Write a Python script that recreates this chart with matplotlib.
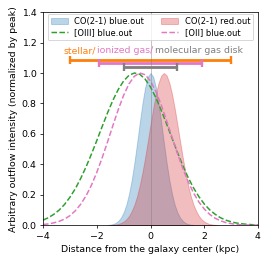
import numpy as np
import matplotlib.pyplot as plt

# CO(2-1) blue outflow
x_co_b = [-1.6, -1.5, -1.4, -1.3, -1.2, -1.1, -1.0, -0.9, -0.8, -0.7, -0.6, -0.5, -0.4, -0.3, -0.2, -0.1,
          0.0, 0.1, 0.2, 0.3, 0.4, 0.5, 0.6, 0.7, 0.8, 0.9, 1.0, 1.1, 1.2, 1.3, 1.4, 1.5, 1.6]
y_co_b = [0.002, 0.004, 0.008, 0.015, 0.029, 0.050, 0.085, 0.135, 0.206, 0.298, 0.411, 0.539, 0.674, 0.801, 0.906, 0.976,
          1.000, 0.976, 0.906, 0.801, 0.674, 0.539, 0.411, 0.298, 0.206, 0.135, 0.085, 0.050, 0.029, 0.015, 0.008, 0.004, 0.002]

# CO(2-1) red outflow
x_co_r = [-1.5, -1.4, -1.3, -1.2, -1.1, -1.0, -0.9, -0.8, -0.7, -0.6, -0.5, -0.4, -0.3, -0.2, -0.1, 0.0,
          0.1, 0.2, 0.3, 0.4, 0.5, 0.6, 0.7, 0.8, 0.9, 1.0, 1.1, 1.2, 1.3, 1.4, 1.5,
          1.6, 1.7, 1.8, 1.9, 2.0, 2.1, 2.2, 2.3, 2.4, 2.5]
y_co_r = [0.001, 0.003, 0.005, 0.008, 0.015, 0.024, 0.039, 0.061, 0.093, 0.135, 0.191, 0.262, 0.347, 0.445, 0.552, 0.662,
          0.768, 0.862, 0.936, 0.984, 1.000, 0.984, 0.936, 0.862, 0.768, 0.662, 0.552, 0.445, 0.347, 0.262, 0.191,
          0.135, 0.093, 0.061, 0.039, 0.024, 0.015, 0.008, 0.005, 0.003, 0.001]

# ionized gas profiles
x_ion = [-4.0, -3.8, -3.6, -3.4, -3.2, -3.0, -2.8, -2.6, -2.4, -2.2, -2.0, -1.8, -1.6, -1.4, -1.2, -1.0, -0.8, -0.6,
         -0.4, -0.2, 0.0, 0.2, 0.4, 0.6, 0.8, 1.0, 1.2, 1.4, 1.6, 1.8, 2.0, 2.2, 2.4, 2.6, 2.8, 3.0, 3.2, 3.4, 3.6, 3.8, 4.0]
y_oiii = [0.034, 0.050, 0.072, 0.100, 0.137, 0.184, 0.240, 0.307, 0.383, 0.467, 0.556, 0.648, 0.738, 0.821, 0.892, 0.948, 0.985, 1.000,
          0.992, 0.960, 0.908, 0.838, 0.755, 0.665, 0.572, 0.480, 0.393, 0.314, 0.246, 0.188, 0.140, 0.102, 0.073, 0.050, 0.034, 0.023, 0.015, 0.010, 0.006, 0.004, 0.002]
y_oii = [0.005, 0.009, 0.016, 0.026, 0.041, 0.063, 0.095, 0.138, 0.193, 0.263, 0.347, 0.443, 0.547, 0.655, 0.760, 0.854, 0.929, 0.979,
         1.000, 0.989, 0.947, 0.879, 0.790, 0.687, 0.580, 0.473, 0.374, 0.287, 0.213, 0.153, 0.107, 0.072, 0.047, 0.030, 0.018, 0.011, 0.006, 0.003, 0.002, 0.001, 0.001]

# disk extents (half sizes in kpc) and heights
disk_names = ['stellar/', 'ionized gas/', 'molecular gas disk']
disk_half = [3.0, 1.9, 1.0]
disk_y = [1.085, 1.063, 1.04]
disk_col = ['tab:orange', 'tab:pink', 'tab:gray']
xt = [-3.24, -1.99, 0.15]

fig = plt.figure(figsize=(4, 4))
ax = fig.add_axes([0.160, 0.1625, 0.799, 0.7925])

ax.fill_between(x_co_b, y_co_b, color='tab:blue', alpha=0.3, label='CO(2-1) blue.out')
ax.plot(x_ion, y_oiii, '--', color='tab:green', lw=1.6, label='[OIII] blue.out')
ax.fill_between(x_co_r, y_co_r, color='tab:red', alpha=0.3, label='CO(2-1) red.out')
ax.plot(x_ion, y_oii, '--', color='tab:pink', lw=1.6, label='[OII] blue.out')

for h, yy, c in zip(disk_half, disk_y, disk_col):
    ax.errorbar(0, yy, xerr=h, color=c, lw=3, capsize=4, capthick=2.5)

for t, xx, c in zip(disk_names, xt, disk_col):
    ax.text(xx, 1.147, t, color=c, va='center', ha='left', fontsize=10)

ax.axvline(0, color='gray', lw=1, alpha=0.5)
ax.set_xlim(-4, 4)
ax.set_ylim(0, 1.4)
ax.set_xlabel('Distance from the galaxy center (kpc)')
ax.set_ylabel('Arbitrary outflow intensity (normalized by peak)')
ax.legend(loc='upper center', ncol=2, fontsize=9, labelspacing=0.2, borderaxespad=0.2)

fig.savefig('out.png', dpi=67.25)
